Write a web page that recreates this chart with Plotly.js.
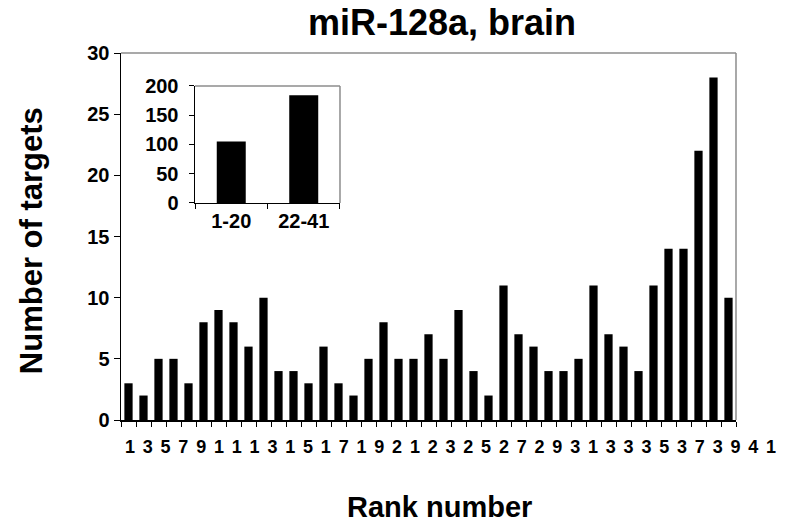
<!DOCTYPE html>
<html>
<head>
<meta charset="utf-8">
<script src="https://cdn.plot.ly/plotly-3.0.1.min.js"></script>
<style>html,body{margin:0;padding:0;background:#fff}#chart{width:785px;height:528px}</style>
</head>
<body>
<div id="chart"></div>
<script>
// Main chart data: number of targets per rank
const ranks = [1,2,3,4,5,6,7,8,9,10,11,12,13,14,15,16,17,18,19,20,21,22,23,24,25,26,27,28,29,30,31,32,33,34,35,36,37,38,39,40,41];
const targets = [3,2,5,5,3,8,9,8,6,10,4,4,3,6,3,2,5,8,5,5,7,5,9,4,2,11,7,6,4,4,5,11,7,6,4,11,14,14,22,28,10];
// Tick label characters as printed under the axis
const rankTickChars = ["1","3","5","7","9","1","1","1","3","1","5","1","7","1","9","2","1","2","3","2","5","2","7","2","9","3","1","3","3","3","5","3","7","3","9","4","1"];
// Inset data
const insetGroups = ["1-20","22-41"];
const insetTotals = [105,184];

const FONT = 'Liberation Sans, Arial, sans-serif';
const bold = (size) => ({family: FONT, size: size, color: '#000', weight: 'bold'});

const tickBounds = ranks.map(r => r - 0.5).concat([ranks[ranks.length-1] + 0.5]);
const charIdx = rankTickChars.map((c, i) => i);

const traces = [
  {type:'bar', x: ranks, y: targets, xaxis:'x', yaxis:'y', width: 0.55,
   marker:{color:'#000', line:{width:0}}, hoverinfo:'x+y', showlegend:false},
  {type:'scatter', x: [], y: [], xaxis:'x2', yaxis:'y', showlegend:false, hoverinfo:'skip'},
  {type:'bar', x: insetGroups, y: insetTotals, xaxis:'x3', yaxis:'y3', width: 0.4,
   marker:{color:'#000', line:{width:0}}, showlegend:false}
];

const gray = '#8c8c8c';
const layout = {
  width: 785, height: 528,
  margin: {l:121, r:5, t:53, b:108, pad:0},
  paper_bgcolor:'#fff', plot_bgcolor:'rgba(0,0,0,0)',
  showlegend:false,
  font: {family: FONT},
  title: {text:'miR-128a, brain', font: bold(36), x: 0.563, xanchor:'center', y: 0.958, yanchor:'middle'},
  xaxis: {domain:[0, 0.93323], anchor:'y', range:[0.5, 41.5], tickmode:'array', tickvals: tickBounds,
          showticklabels:false, ticks:'outside', ticklen:5, tickwidth:1, tickcolor:'#000',
          showline:true, linecolor:'#000', linewidth:1.5, showgrid:false, zeroline:false},
  xaxis2: {domain:[0,1], anchor:'y', range:[-0.5, 36.5], tickmode:'array', tickvals: charIdx, ticktext: rankTickChars,
           ticks:'outside', ticklen:10, tickcolor:'rgba(0,0,0,0)', showline:false, showgrid:false, zeroline:false,
           tickfont: bold(18), tickangle:0},
  yaxis: {domain:[0,1], anchor:'x', range:[0,30], dtick:5, tick0:0, ticks:'outside', ticklen:6, tickwidth:1, tickcolor:'#000',
          showline:true, linecolor:'#000', linewidth:1.5, showgrid:false, zeroline:false, tickfont: bold(20)},
  xaxis3: {domain:[0.1123, 0.3323], anchor:'y3', type:'category', tickson:'boundaries', ticks:'outside', ticklen:5,
           tickcolor:'#000', showline:true, linecolor:'#000', linewidth:1.5, showgrid:false, zeroline:false,
           tickfont: bold(20), range:[-0.5,1.5]},
  yaxis3: {domain:[0.5913, 0.9101], anchor:'x3', range:[0,200], dtick:50, tick0:0, ticks:'outside', ticklen:5,
           tickcolor:'#000', showline:true, linecolor:'#000', linewidth:1.5, showgrid:false, zeroline:false,
           tickfont: bold(20), ticklabelstandoff:6},
  shapes: [
    {type:'line', xref:'x domain', yref:'y domain', x0:0, x1:1, y0:1, y1:1, line:{color:gray, width:1.5}},
    {type:'line', xref:'x domain', yref:'y domain', x0:1, x1:1, y0:0, y1:1, line:{color:gray, width:1.5}},
    {type:'line', xref:'x3 domain', yref:'y3 domain', x0:0, x1:1, y0:1, y1:1, line:{color:gray, width:1.5}},
    {type:'line', xref:'x3 domain', yref:'y3 domain', x0:1, x1:1, y0:0, y1:1, line:{color:gray, width:1.5}}
  ],
  annotations: [
    {text:'Number of targets', xref:'paper', yref:'paper', x:-0.1366, y:0.49, xanchor:'center', yanchor:'middle',
     textangle:-90, showarrow:false, font: bold(31)},
    {text:'Rank number', xref:'paper', yref:'paper', x:0.484, y:-0.237, xanchor:'center', yanchor:'middle',
     showarrow:false, font: bold(29)}
  ]
};

Plotly.newPlot('chart', traces, layout, {displayModeBar:false, staticPlot:true});
</script>
</body>
</html>
